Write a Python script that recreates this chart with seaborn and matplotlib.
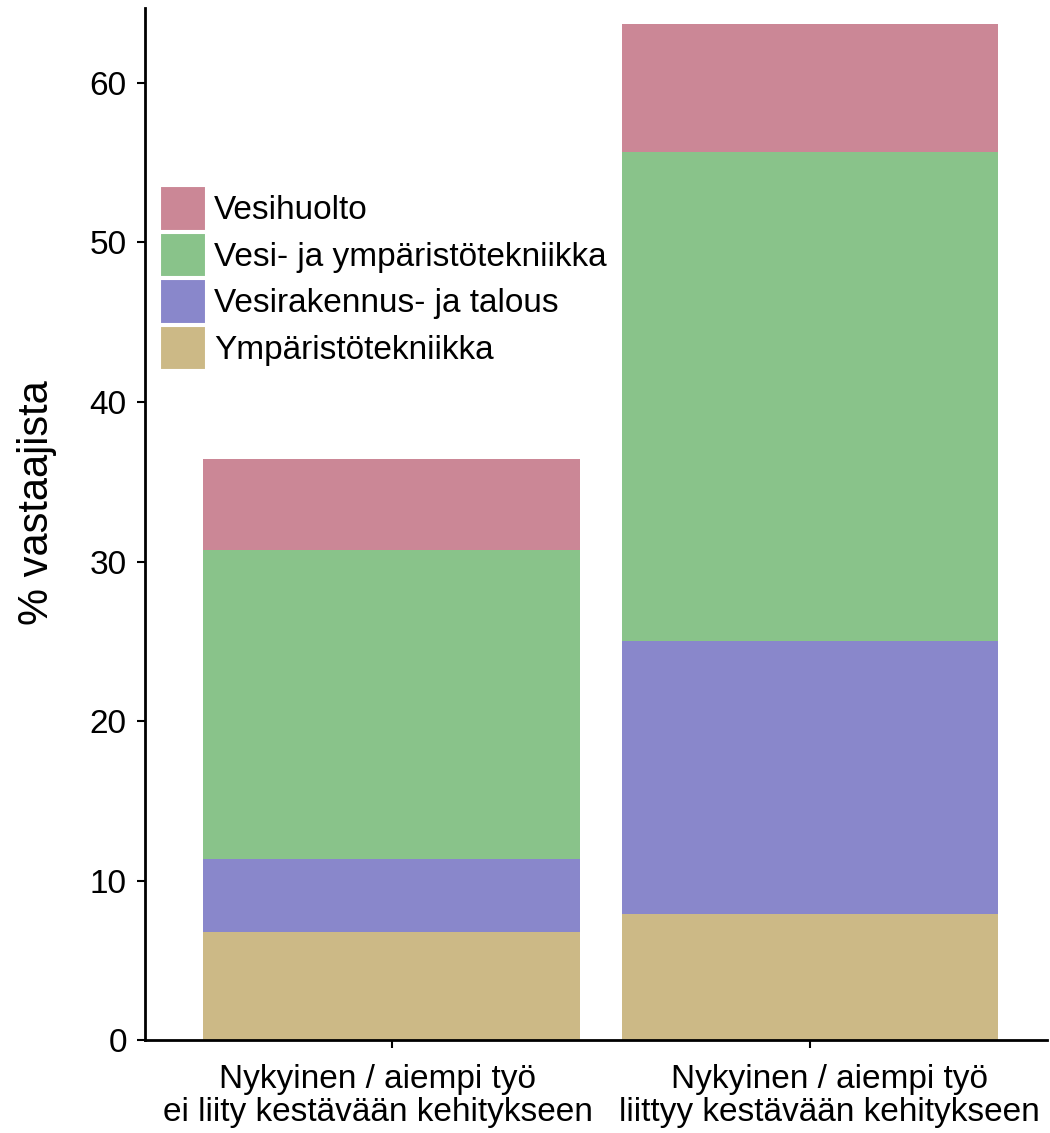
import pandas as pd
import seaborn as sns
import matplotlib.pyplot as plt
from matplotlib.patches import Patch
from matplotlib.transforms import ScaledTranslation

groups = ['Nykyinen / aiempi työ\nei liity kestävään kehitykseen',
          'Nykyinen / aiempi työ\nliittyy kestävään kehitykseen']
# stacked from bottom to top
series = ['Ympäristötekniikka', 'Vesirakennus- ja talous',
          'Vesi- ja ympäristötekniikka', 'Vesihuolto']
ymparisto = [6.77, 7.9]
vesirakennus = [4.58, 17.1]
vesi_ymparisto = [19.35, 30.7]
vesihuolto = [5.7, 8.0]
colors = ['#CCB986', '#8987CB', '#89C38A', '#CB8796']

df = pd.DataFrame({'group': groups, 'Ympäristötekniikka': ymparisto,
                   'Vesirakennus- ja talous': vesirakennus,
                   'Vesi- ja ympäristötekniikka': vesi_ymparisto,
                   'Vesihuolto': vesihuolto})
cum = df[series].cumsum(axis=1)

sns.set_style("ticks", {'axes.edgecolor': 'black', 'xtick.color': 'black',
                        'ytick.color': 'black', 'text.color': 'black',
                        'axes.labelcolor': 'black'})
plt.rcParams['font.family'] = ['Liberation Sans', 'DejaVu Sans']

fig = plt.figure(figsize=(10.5, 11.33), dpi=100)
ax = fig.add_axes([0.138, 0.082, 0.859, 0.911])

# draw the tallest cumulative bars first so the lower ones sit on top
for s, c in reversed(list(zip(series, colors))):
    sns.barplot(x=df['group'], y=cum[s], color=c, width=0.9, ax=ax,
                saturation=1, linewidth=0)

ax.set_xlim(-0.59, 1.567)
ax.set_ylim(0, 64.7)
ax.set_xlabel('')
ax.set_ylabel('% vastaajista', fontsize=30)
ax.yaxis.set_label_coords(-0.098, 0.521)
ax.tick_params(axis='both', labelsize=24, width=1.5, length=6, pad=7)
ax.tick_params(axis='x', pad=11)
# labels sit a bit off-centre in the original
for lbl, dx in zip(ax.get_xticklabels(), [-0.14, 0.20]):
    lbl.set_linespacing(1.1)
    lbl.set_transform(lbl.get_transform() + ScaledTranslation(dx, 0, fig.dpi_scale_trans))
sns.despine(ax=ax)
for sp in ['left', 'bottom']:
    ax.spines[sp].set_linewidth(2)

handles = [Patch(facecolor=c, edgecolor='white', linewidth=1.5, label=s)
           for s, c in reversed(list(zip(series, colors)))]
ax.legend(handles=handles, loc='upper left', bbox_to_anchor=(0.0166, 0.8275),
          frameon=False, fontsize=24, borderpad=0, borderaxespad=0,
          handlelength=1.38, handleheight=1.68, labelspacing=0.06,
          handletextpad=0.25)

fig.savefig('out.png', dpi=100)
